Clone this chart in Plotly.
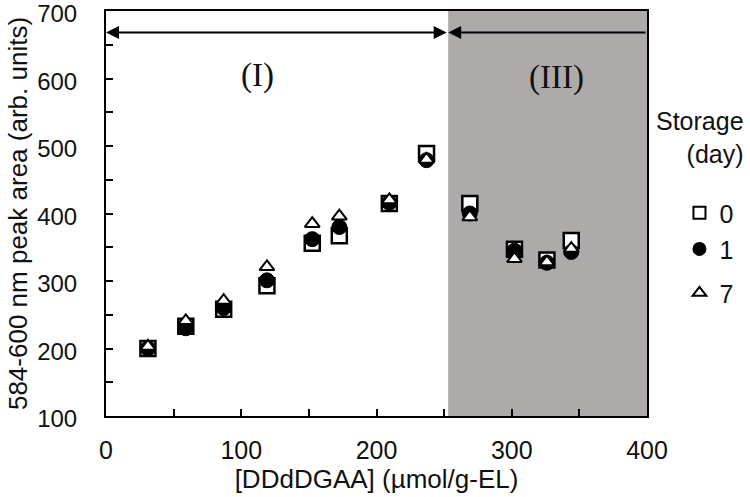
import plotly.graph_objects as go

# ---- data ----
conc = [31, 59, 87, 119, 152.5, 172.5, 209.5, 237, 269, 302, 326, 344]
day0 = [200, 233, 258, 293, 356, 367, 415, 489, 415, 347, 331, 360]
day1 = [200, 230, 260, 301, 362, 380, 416, 479, 400, 345, 327, 343]
day7 = [203, 241, 271, 321, 385, 396, 420, 480, 395, 333, 328, 348]
series_names = ["0", "1", "7"]
region_bounds = [0, 253, 400]
region_labels = ["(I)", "(III)"]
region_label_pos = [(112, 605), (333, 602)]
arrow_y = 668

FONT = "Liberation Sans, Arial, sans-serif"
SERIF = "Liberation Serif, Times New Roman, serif"
TXT = "#111111"
FS = 26

fig = go.Figure()

fig.add_trace(go.Scatter(
    x=conc, y=day0, mode="markers", name=series_names[0], legend="legend",
    marker=dict(symbol="square", size=15, color="white",
                line=dict(color="black", width=2.5)),
))
fig.add_trace(go.Scatter(
    x=conc, y=day1, mode="markers", name=series_names[1], legend="legend2",
    marker=dict(symbol="circle", size=15, color="black",
                line=dict(color="black", width=1)),
))
fig.add_trace(go.Scatter(
    x=conc, y=day7, mode="markers", name=series_names[2], legend="legend3",
    marker=dict(symbol="triangle-up", size=13, color="white",
                line=dict(color="black", width=2)),
))

# shaded region (III)
fig.add_shape(type="rect", xref="x", yref="y",
              x0=region_bounds[1], x1=region_bounds[2], y0=100, y1=700,
              fillcolor="#AEAAAA", line=dict(width=0), layer="below")

# arrows
fig.add_annotation(x=region_bounds[0], y=arrow_y, ax=region_bounds[1], ay=arrow_y,
                   xref="x", yref="y", axref="x", ayref="y", text="",
                   showarrow=True, arrowhead=2, startarrowhead=2, arrowside="end+start",
                   arrowsize=1.3, startarrowsize=1.3, arrowwidth=2, arrowcolor="black")
fig.add_annotation(x=region_bounds[1], y=arrow_y, ax=region_bounds[2], ay=arrow_y,
                   xref="x", yref="y", axref="x", ayref="y", text="",
                   showarrow=True, arrowhead=2, arrowside="end",
                   arrowsize=1.3, arrowwidth=2, arrowcolor="black")

for lab, (lx, ly) in zip(region_labels, region_label_pos):
    fig.add_annotation(x=lx, y=ly, xref="x", yref="y", text=lab, showarrow=False,
                       font=dict(family=SERIF, size=33, color=TXT))

# legend title
fig.add_annotation(x=1.1837, y=0.768, xref="paper", yref="paper",
                   xanchor="right", yanchor="top", align="right",
                   text="Storage<br>(day)", showarrow=False,
                   font=dict(family=FONT, size=25, color=TXT))

leg_common = dict(xanchor="left", yanchor="middle", bgcolor="rgba(0,0,0,0)",
                  font=dict(family=FONT, size=25, color=TXT), itemsizing="constant")

fig.update_layout(
    width=750, height=497,
    margin=dict(l=106, r=102.5, t=11, b=81, autoexpand=False),
    paper_bgcolor="white", plot_bgcolor="white",
    font=dict(family=FONT, size=FS, color=TXT),
    showlegend=True,
    legend=dict(x=1.06, y=0.501, **leg_common),
    legend2=dict(x=1.06, y=0.412, **leg_common),
    legend3=dict(x=1.06, y=0.3035, **leg_common),
    xaxis=dict(range=[0, 400], dtick=100, tick0=0, showgrid=False, zeroline=False,
               showline=True, linecolor="black", linewidth=2, mirror=True,
               ticks="inside", ticklen=7, tickwidth=2, tickcolor="black",
               minor=dict(dtick=50, ticks="inside", ticklen=7, tickwidth=2, tickcolor="black", showgrid=False),
               ticklabelstandoff=11, ticklabeloverflow="allow",
               tickfont=dict(family=FONT, size=25, color=TXT),
               title=dict(text="[DDdDGAA] (µmol/g-EL)", standoff=2,
                          font=dict(family=FONT, size=FS, color=TXT)),
               automargin=False),
    yaxis=dict(range=[100, 700], dtick=100, tick0=0, showgrid=False, zeroline=False,
               showline=True, linecolor="black", linewidth=2, mirror=True,
               ticks="inside", ticklen=7, tickwidth=2, tickcolor="black",
               minor=dict(dtick=50, ticks="inside", ticklen=7, tickwidth=2, tickcolor="black", showgrid=False),
               ticklabelstandoff=22, ticklabeloverflow="allow", ticklabelshift=3,
               tickfont=dict(family=FONT, size=24, color=TXT),
               title=dict(text="584-600 nm peak area (arb. units)", standoff=2,
                          font=dict(family=FONT, size=FS, color=TXT)),
               automargin=False),
)

fig.write_html("out.html")
